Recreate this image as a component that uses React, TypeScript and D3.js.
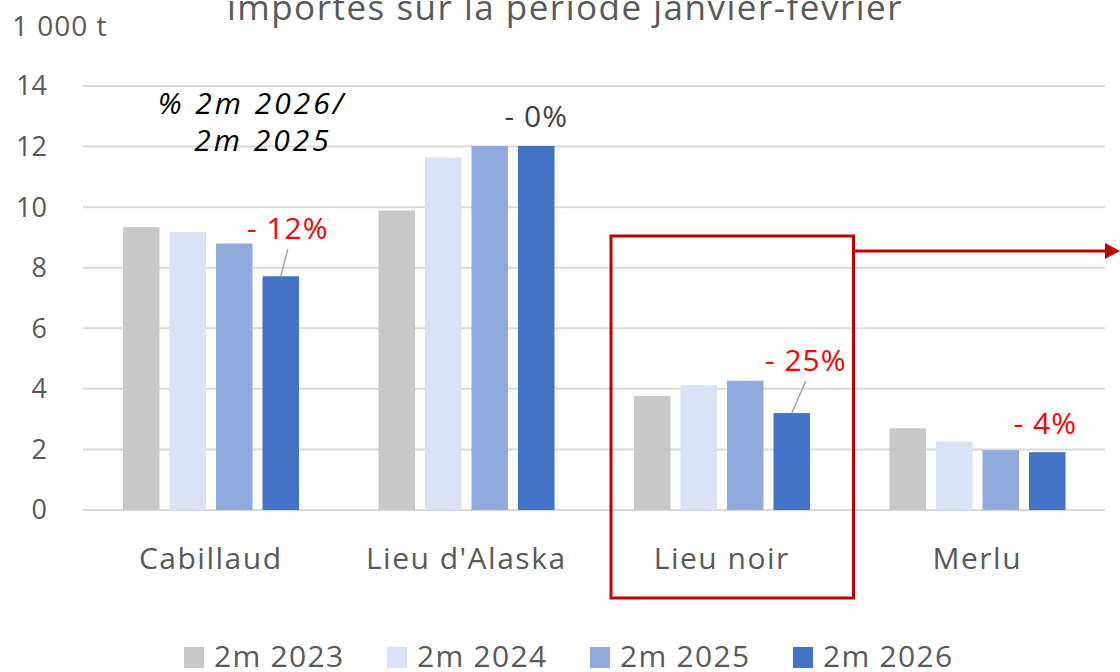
import React from 'react';
import * as d3 from 'd3';

const categories = ['Cabillaud', "Lieu d'Alaska", 'Lieu noir', 'Merlu'];
const seriesNames = ['2m 2023', '2m 2024', '2m 2025', '2m 2026'];
const seriesColors = ['#C8C8C8', '#DAE3F3', '#8FAADC', '#4472C4'];
const v2023 = [9.34, 9.89, 3.76, 2.7];
const v2024 = [9.18, 11.64, 4.12, 2.26];
const v2025 = [8.8, 12.02, 4.27, 1.98];
const v2026 = [7.72, 12.02, 3.2, 1.91];
const changeLabels = ['- 12%', '- 0%', '- 25%', '- 4%'];
const yTicks = [0, 2, 4, 6, 8, 10, 12, 14];

const FONT = '"Open Sans", Lato, sans-serif';
const GREY = '#595959';

const App = () => {
  const width = 1120;
  const height = 672;
  const values = [v2023, v2024, v2025, v2026];

  const y = d3.scaleLinear().domain([0, 14]).range([510, 86]);
  const x0 = d3.scaleBand().domain(categories).range([83, 1105]);
  const x1 = d3.scaleBand().domain(seriesNames).range([40, 216]).paddingInner(0.215);

  // label offsets relative to the 2026 bar top (dx, dy) and whether a leader line is drawn
  const labelPlace = [
    { dx: 7, dy: -48, color: '#FF0000', leader: true },
    { dx: 0, dy: -29, color: '#404040', leader: false },
    { dx: 14, dy: -53, color: '#FF0000', leader: true },
    { dx: -2, dy: -29, color: '#FF0000', leader: false },
  ];

  const lastX = (c: string) => (x0(c) as number) + (x1('2m 2026') as number) + x1.bandwidth() / 2;

  const boxX = (x0('Lieu noir') as number) + 17;
  const boxW = x0.bandwidth() - 13;

  return (
    <svg width={width} height={height} style={{ position: 'absolute', left: 0, top: 0, background: '#fff' }}>
      <text x={565} y={20} textAnchor="middle" fill={GREY} fontFamily={FONT} fontSize={35} letterSpacing={1.5}>
        importés sur la période janvier-février
      </text>
      <text x={12} y={36} fill={GREY} fontFamily={FONT} fontSize={28} letterSpacing={1}>1 000 t</text>

      {yTicks.map((t) => (
        <g key={t}>
          <line x1={83} x2={1105} y1={y(t)} y2={y(t)} stroke="#D9D9D9" strokeWidth={2} />
          <text x={47} y={y(t)} dy="0.35em" textAnchor="end" fill={GREY} fontFamily={FONT} fontSize={27}>
            {t}
          </text>
        </g>
      ))}

      {categories.map((c, ci) => (
        <g key={c} transform={`translate(${x0(c)},0)`}>
          {seriesNames.map((s, si) => (
            <rect
              key={s}
              x={x1(s)}
              y={y(values[si][ci])}
              width={x1.bandwidth()}
              height={y(0) - y(values[si][ci])}
              fill={seriesColors[si]}
            />
          ))}
          <text
            x={x0.bandwidth() / 2}
            y={558}
            dy="0.35em"
            textAnchor="middle"
            fill={GREY}
            fontFamily={FONT}
            fontSize={30}
            letterSpacing={1.5}
          >
            {c}
          </text>
        </g>
      ))}

      {categories.map((c, ci) => {
        const p = labelPlace[ci];
        const bx = lastX(c);
        const by = y(v2026[ci]);
        return (
          <g key={c}>
            {p.leader && (
              <line x1={bx} y1={by} x2={bx + p.dx} y2={by + p.dy + 21} stroke="#A6A6A6" strokeWidth={1.5} />
            )}
            <text x={bx + p.dx} y={by + p.dy} dy="0.35em" textAnchor="middle" fill={p.color} fontFamily={FONT} fontSize={30} letterSpacing={1}>
              {changeLabels[ci]}
            </text>
          </g>
        );
      })}

      <text x={252} y={103} dy="0.35em" textAnchor="middle" fontStyle="italic" fill="#000" fontFamily={FONT} fontSize={30} letterSpacing={3}>
        % 2m 2026/
      </text>
      <text x={263} y={140} dy="0.35em" textAnchor="middle" fontStyle="italic" fill="#000" fontFamily={FONT} fontSize={30} letterSpacing={3}>
        2m 2025
      </text>

      <rect x={boxX} y={236} width={boxW} height={362} fill="none" stroke="#C00000" strokeWidth={3} />
      <line x1={boxX + boxW} x2={1106} y1={251} y2={251} stroke="#C00000" strokeWidth={3} />
      <path d="M1105,243 L1120,251 L1105,259 Z" fill="#C00000" />

      {seriesNames.map((s, i) => (
        <g key={s} transform={`translate(${184 + i * 203},647)`}>
          <rect x={0} y={0} width={20} height={21} fill={seriesColors[i]} />
          <text x={30} y={9} dy="0.35em" fill={GREY} fontFamily={FONT} fontSize={30} letterSpacing={1.3}>
            {s}
          </text>
        </g>
      ))}
    </svg>
  );
};

export default App;
